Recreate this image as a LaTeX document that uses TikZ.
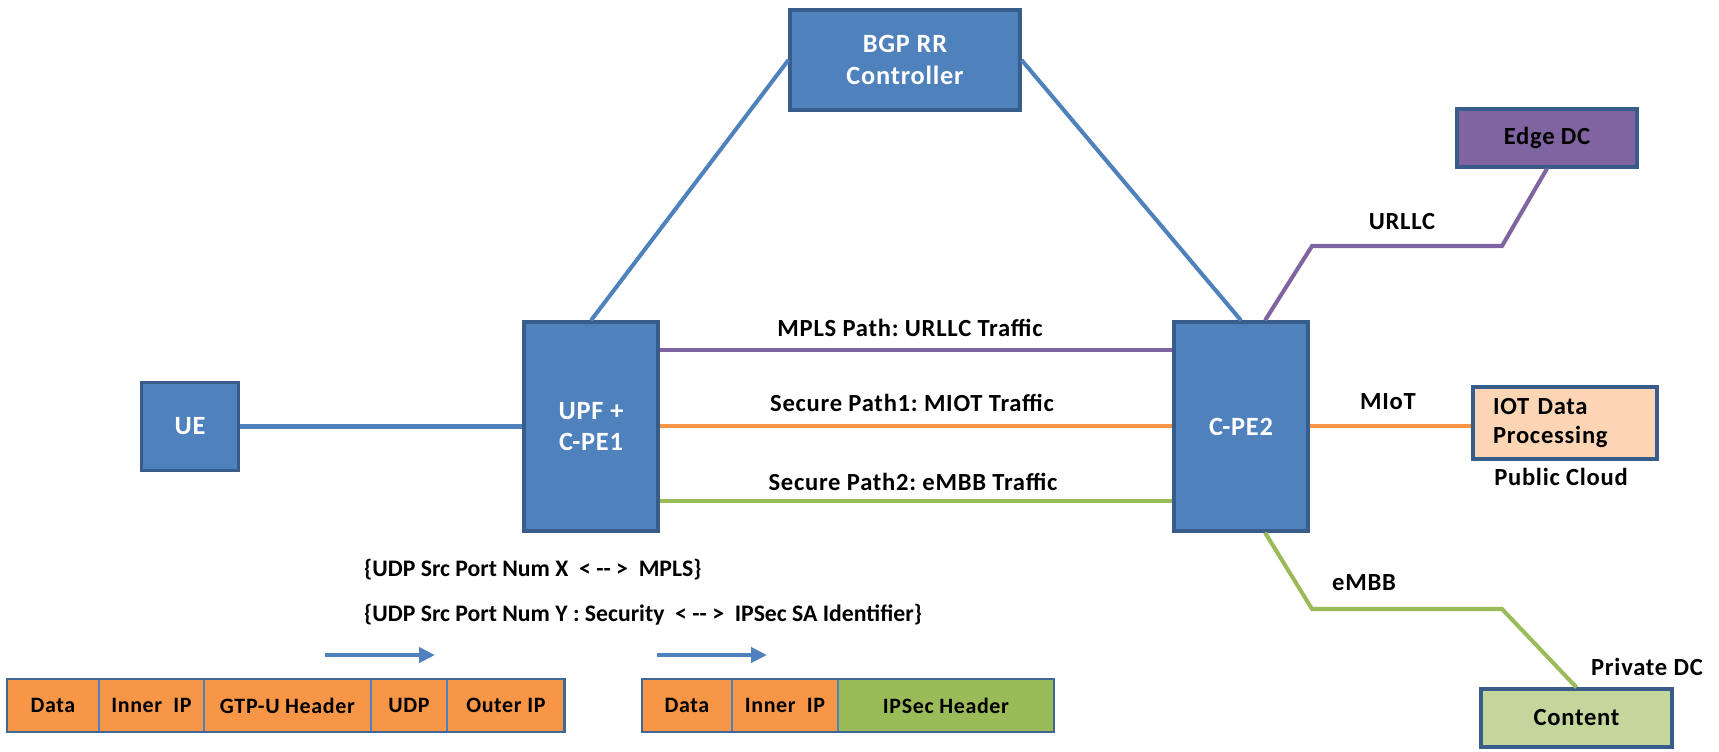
\documentclass[tikz,border=0pt]{standalone}
\usepackage{fontspec}
\setmainfont{Carlito}
\newfontfamily\widefont{Carlito}[LetterSpace=3.0]
\frenchspacing
\usetikzlibrary{positioning,calc,arrows.meta}

\definecolor{boxblue}{HTML}{4F81BD}
\definecolor{edgeblue}{HTML}{385D8A}
\definecolor{urpurple}{HTML}{8064A2}
\definecolor{iotorange}{HTML}{F79646}
\definecolor{mbbgreen}{HTML}{9BBB59}
\definecolor{peach}{HTML}{FCD5B5}
\definecolor{palegreen}{HTML}{C3D69B}

\begin{document}
\begin{tikzpicture}[x=0.02cm, y=-0.02cm,
    box/.style={draw=edgeblue, line width=1.8pt, fill=boxblue, text=white,
      font=\widefont\bfseries\fontsize{15}{18}\selectfont, align=center, inner sep=0pt},
    link/.style={line width=2.3pt},
    lbl/.style={font=\widefont\bfseries\fontsize{14}{16}\selectfont},
    cell/.style={draw=boxblue, line width=1.6pt, fill=iotorange, minimum height=1.06cm,
      inner sep=0pt, outer sep=0pt, font=\widefont\bfseries\fontsize{12.5}{14}\selectfont},
    stripframe/.style={draw=edgeblue!70!boxblue, line width=1.6pt},
    hint/.style={font=\bfseries\fontsize{13.5}{15}\selectfont, anchor=west}]

    \useasboundingbox (0,0) rectangle (1719,751);

    % network boxes
    \node[box, minimum width=4.6cm, minimum height=2cm] (bgp) at (905,60) {BGP RR\\Controller};
    \node[box, minimum width=1.94cm, minimum height=1.76cm] (ue) at (190,426.5) {UE};
    \node[box, minimum width=2.68cm, minimum height=4.18cm] (upf) at (591,426.5) {UPF +\\C-PE1};
    \node[box, minimum width=2.68cm, minimum height=4.18cm] (cpe) at (1241,426.5) {C-PE2};
    \node[box, fill=urpurple, text=black, font=\widefont\bfseries\fontsize{14}{16}\selectfont,
      minimum width=3.6cm, minimum height=1.16cm] (edge) at (1547,138) {Edge DC};
    \node[box, fill=peach, text=black, font=\widefont\bfseries\fontsize{14}{17}\selectfont,
      minimum height=1.44cm, text width=2.88cm, inner xsep=0.4cm, align=left] (iot) at (1565,423) {IOT Data\\Processing};
    \node[box, fill=palegreen, text=black, font=\widefont\bfseries\fontsize{14}{16}\selectfont,
      minimum width=3.82cm, minimum height=1.16cm] (content) at (1576.5,718) {Content};

    % labels
    \node[lbl] (pub) at (1561,477) {Public Cloud};
    \node[lbl] (priv) at (1647,667) {Private DC};
    \node[lbl] (urllc) at (1402,222) {URLLC};
    \node[lbl] (miot) at (1388,402) {MIoT};
    \node[lbl] (embb) at (1364,583) {eMBB};
    \node[lbl] (mpls) at (910,328) {MPLS Path: URLLC Traffic};
    \node[lbl] (sp1) at (912,403) {Secure Path1: MIOT Traffic};
    \node[lbl] (sp2) at (913,482) {Secure Path2: eMBB Traffic};

    % control links
    \draw[link, boxblue] (ue) -- (upf);
    \draw[link, boxblue] (bgp.west) -- (upf.north);
    \draw[link, boxblue] (bgp.east) -- (cpe.north);

    % slice paths
    \draw[link, urpurple] ($(upf.north east)+(0,30)$) -- ($(cpe.north west)+(0,30)$);
    \draw[link, iotorange] ($(upf.north east)+(0,106)$) -- ($(cpe.north west)+(0,106)$);
    \draw[link, mbbgreen] ($(upf.north east)+(0,181)$) -- ($(cpe.north west)+(0,181)$);

    \coordinate (o1) at ($(cpe.north east)+(0,106)$);
    \draw[link, iotorange] (o1) -- (o1 -| iot.west);

    \coordinate (u0) at ($(cpe.north)+(24,0)$);
    \coordinate (u1) at (1312,246);
    \coordinate (u2) at (1502,246);
    \draw[link, urpurple] (u0) -- (u1) -- (u2) -- (edge.south);

    \coordinate (e0) at ($(cpe.south)+(24,0)$);
    \coordinate (e1) at (1312,609);
    \coordinate (e2) at (1502,609);
    \draw[link, mbbgreen] (e0) -- (e1) -- (e2) -- (content.north);

    % mapping notes
    \node[hint] (map1) at (358,570) {\{UDP Src Port Num X~ < {-}{-} >~ MPLS\}};
    \node[hint] (map2) at (358,615) {\{UDP Src Port Num Y : Security~ < {-}{-} >~ IPSec SA Identifier\}};

    % packet headers
    \node[cell, minimum width=1.84cm, anchor=north west] (data1) at (7,679) {Data};
    \node[cell, minimum width=2.10cm, right=0pt of data1] (inner1) {Inner~ IP};
    \node[cell, minimum width=3.34cm, right=0pt of inner1] (gtp) {GTP-U Header};
    \node[cell, minimum width=1.52cm, right=0pt of gtp] (udp) {UDP};
    \node[cell, minimum width=2.36cm, right=0pt of udp] (outer) {Outer IP};
    \draw[stripframe] (data1.north west) rectangle (outer.south east);

    \node[cell, minimum width=1.80cm, anchor=north west] (data2) at (642,679) {Data};
    \node[cell, minimum width=2.12cm, right=0pt of data2] (inner2) {Inner~ IP};
    \node[cell, fill=mbbgreen, minimum width=4.32cm, right=0pt of inner2] (ipsec) {IPSec Header};
    \draw[stripframe] (data2.north west) rectangle (ipsec.south east);

    \coordinate (a1s) at (325,655);
    \coordinate (a1e) at (435,655);
    \draw[link, boxblue, -{Triangle[length=0.32cm,width=0.3cm]}] (a1s) -- (a1e);
    \coordinate (a2s) at (657,655);
    \coordinate (a2e) at (767,655);
    \draw[link, boxblue, -{Triangle[length=0.32cm,width=0.3cm]}] (a2s) -- (a2e);

\end{tikzpicture}
\end{document}
